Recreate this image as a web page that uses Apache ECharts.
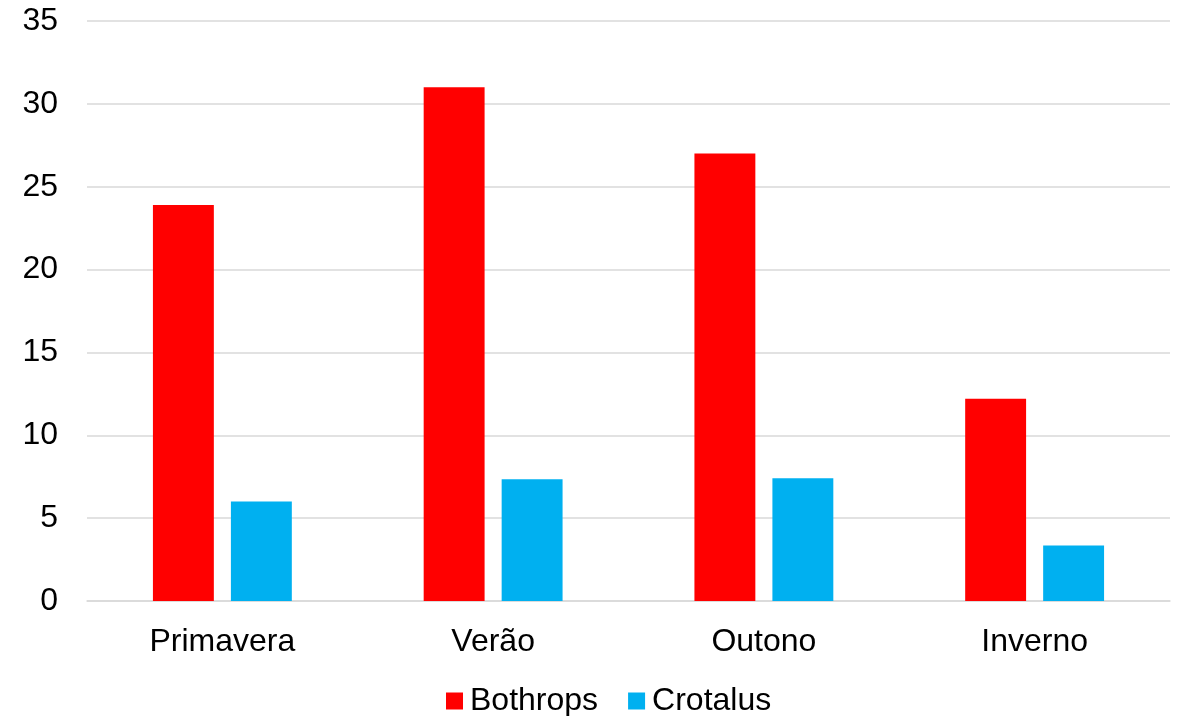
<!DOCTYPE html>
<html>
<head>
<meta charset="utf-8">
<script src="https://cdn.jsdelivr.net/npm/echarts@6/dist/echarts.min.js"></script>
<style>
  html, body { margin: 0; padding: 0; background: #fff; }
  #chart { width: 1181px; height: 716px; }
</style>
</head>
<body>
<div id="chart"></div>
<script>
// estações do ano
const seasons = ['Primavera', 'Verão', 'Outono', 'Inverno'];
const bothrops = [23.9, 31, 27, 12.2];
const crotalus = [6.0, 7.35, 7.4, 3.35];
const yTicks = { min: 0, max: 35, step: 5 };

let chart = echarts.init(document.getElementById('chart'));
const font = 'Liberation Sans, Arial, sans-serif';

chart.setOption({
  animation: false,
  textStyle: { fontFamily: font },
  grid: { left: 87, right: 11, top: 21, bottom: 115 },
  legend: {
    top: 680,
    left: 441,
    itemWidth: 17,
    itemHeight: 17,
    itemGap: 30,
    icon: 'rect',
    textStyle: { fontSize: 32, color: '#000', fontFamily: font, padding: [0, 0, 0, 2] },
    data: ['Bothrops', 'Crotalus']
  },
  xAxis: {
    type: 'category',
    data: seasons,
    axisLine: { lineStyle: { color: '#d9d9d9', width: 1.5 } },
    axisTick: { show: false },
    axisLabel: { fontSize: 32, color: '#000', margin: 25, fontFamily: font }
  },
  yAxis: {
    type: 'value',
    min: yTicks.min,
    max: yTicks.max,
    interval: yTicks.step,
    axisLine: { show: false },
    axisTick: { show: false },
    axisLabel: { fontSize: 32, color: '#000', margin: 29, fontFamily: font },
    splitLine: { lineStyle: { color: '#d9d9d9', width: 1.5 } }
  },
  series: [
    {
      name: 'Bothrops',
      type: 'bar',
      data: bothrops,
      barWidth: '22.5%',
      barGap: '28%',
      itemStyle: { color: '#ff0000' }
    },
    {
      name: 'Crotalus',
      type: 'bar',
      data: crotalus,
      barWidth: '22.5%',
      itemStyle: { color: '#00b0f0' }
    }
  ]
});
</script>
</body>
</html>
